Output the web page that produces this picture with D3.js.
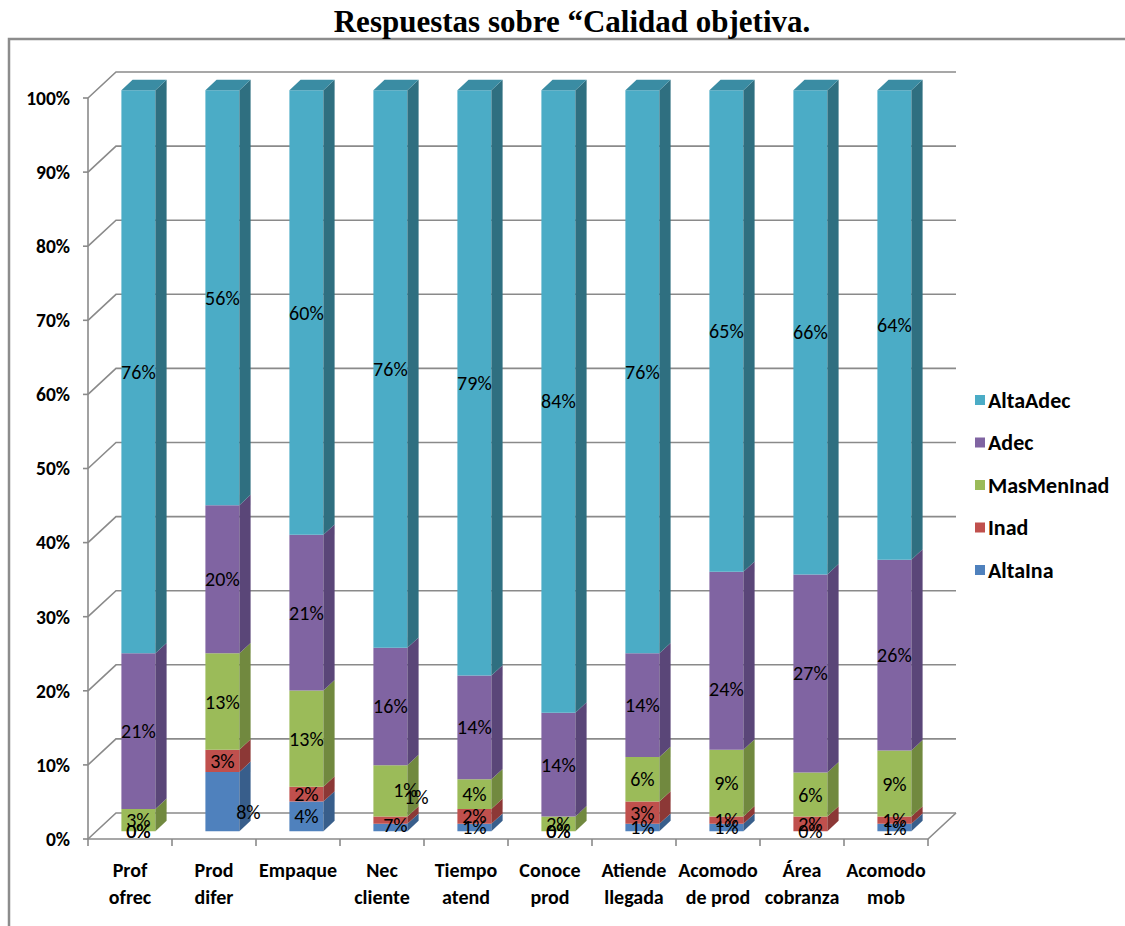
<!DOCTYPE html>
<html>
<head>
<meta charset="utf-8">
<script src="https://cdn.jsdelivr.net/npm/d3@7"></script>
<style>
  html, body { margin: 0; padding: 0; background: #fff; }
  svg { display: block; }
  .lbl { font-family: Carlito, "Liberation Sans Narrow", "DejaVu Sans Condensed", "Open Sans", sans-serif; }
</style>
</head>
<body>
<svg id="chart" width="1125" height="926"></svg>
<script>
// Category labels (line breaks as drawn under the axis)
const categories = ["Prof\nofrec", "Prod\ndifer", "Empaque", "Nec\ncliente", "Tiempo\natend",
                    "Conoce\nprod", "Atiende\nllegada", "Acomodo\nde prod", "Área\ncobranza", "Acomodo\nmob"];
// Stack order, bottom to top
const seriesNames = ["AltaIna", "Inad", "MasMenInad", "Adec", "AltaAdec"];
// Percent of answers per category
const altaIna    = [0, 8, 4, 1, 1, 0, 1, 1, 0, 1];
const inad       = [0, 3, 2, 1, 2, 0, 3, 1, 2, 1];
const masMenInad = [3, 13, 13, 7, 4, 2, 6, 9, 6, 9];
const adec       = [21, 20, 21, 16, 14, 14, 14, 24, 27, 26];
const altaAdec   = [76, 56, 60, 76, 79, 84, 76, 65, 66, 64];
const yTicks = [0, 0.1, 0.2, 0.3, 0.4, 0.5, 0.6, 0.7, 0.8, 0.9, 1];

const seriesValues = { AltaIna: altaIna, Inad: inad, MasMenInad: masMenInad, Adec: adec, AltaAdec: altaAdec };
const rows = categories.map((c, i) => {
  const r = { cat: c };
  seriesNames.forEach(s => r[s] = seriesValues[s][i]);
  return r;
});

// Face colours: front, side, top
const colors = {
  AltaIna:    { front: "#4f81bd", side: "#385e8b", top: "#416c9f" },
  Inad:       { front: "#c0504d", side: "#8c3836", top: "#a44341" },
  MasMenInad: { front: "#9bbb59", side: "#71893f", top: "#83a04a" },
  Adec:       { front: "#8064a2", side: "#5a4678", top: "#6b5489" },
  AltaAdec:   { front: "#4bacc6", side: "#2f6f80", top: "#3a8ca3" }
};

const svg = d3.select("#chart");

// Oblique projection of the 3D plot box
const depth = { dx: 28, dy: -26 };
const x = d3.scaleBand().domain(categories).range([88, 928]);
const y = d3.scaleLinear().domain([0, 1]).range([839, 98]);
const P = (px, v, d) => [px + d * depth.dx, y(v) + d * depth.dy];
const barX = d3.scaleBand().domain(categories).range([88, 928]).paddingInner(50 / 84).paddingOuter(25 / 84);
const dFront = 0.3, dBack = 0.7;

const grid = "#8a8a8a";
const line = d3.line();

// Outer chart frame
svg.append("path").attr("d", "M9,926 V39 H1125").attr("fill", "none").attr("stroke", "#8c8c8c").attr("stroke-width", 2.5);

// Title
svg.append("text").attr("x", 572).attr("y", 32).attr("text-anchor", "middle")
  .attr("font-family", "'Liberation Serif', 'Times New Roman', serif").attr("font-weight", "bold")
  .attr("font-size", 31).text("Respuestas sobre “Calidad objetiva.");

// Walls: gridlines on left side wall and back wall
const g = svg.append("g").attr("fill", "none").attr("stroke", grid).attr("stroke-width", 1.6);
yTicks.forEach(v => {
  g.append("path").attr("d", line([P(x.range()[0], v, 0), P(x.range()[0], v, 1), P(x.range()[1], v, 1)]));
});
// Left front edge, floor front and right edges
g.append("path").attr("d", line([P(88, 1, 0), P(88, 0, 0), P(928, 0, 0), P(928, 0, 1)]));
// Tick marks
yTicks.forEach(v => g.append("path").attr("d", line([[83, y(v)], [88, y(v)]])));
d3.range(categories.length + 1).forEach(i => {
  const px = 88 + i * x.step();
  g.append("path").attr("d", line([[px, y(0)], [px, y(0) + 7]]));
});

// Y axis labels
svg.append("g").selectAll("text").data(yTicks).join("text")
  .attr("class", "lbl").attr("x", 70).attr("y", d => y(d)).attr("dy", "0.35em")
  .attr("text-anchor", "end").attr("font-weight", "bold").attr("font-size", 19.5)
  .text(d => d3.format(".0%")(d));

// Category labels
const catG = svg.append("g");
categories.forEach(c => {
  const t = catG.append("text").attr("class", "lbl").attr("text-anchor", "middle")
    .attr("font-weight", "bold").attr("font-size", 20);
  c.split("\n").forEach((ln, k) => {
    t.append("tspan").attr("x", x(c) + x.bandwidth() / 2).attr("y", 877 + k * 27).text(ln);
  });
});

// Stacked 3D columns
const stack = d3.stack().keys(seriesNames).offset(d3.stackOffsetExpand);
const layers = stack(rows);
const bars = svg.append("g");
categories.forEach((c, i) => {
  const x0 = barX(c), x1 = x0 + barX.bandwidth();
  layers.forEach((layer, li) => {
    const [v0, v1] = layer[i];
    if (v1 - v0 <= 0) return;
    const col = colors[layer.key];
    bars.append("path").attr("fill", col.front)
      .attr("d", line([P(x0, v0, dFront), P(x1, v0, dFront), P(x1, v1, dFront), P(x0, v1, dFront)]) + "Z");
    bars.append("path").attr("fill", col.side)
      .attr("d", line([P(x1, v0, dFront), P(x1, v0, dBack), P(x1, v1, dBack), P(x1, v1, dFront)]) + "Z");
    if (li === layers.length - 1) {
      bars.append("path").attr("fill", col.top)
        .attr("d", line([P(x0, v1, dFront), P(x1, v1, dFront), P(x1, v1, dBack), P(x0, v1, dBack)]) + "Z");
    }
  });
});

// Value labels, centred on each segment; a few are shifted where they crowd
const labelShift = {
  "Prod\ndifer|AltaIna": [26, 10],
  "Nec\ncliente|AltaIna": [15, -38],
  "Nec\ncliente|Inad": [26, -23],
  "Nec\ncliente|MasMenInad": [5, 34],
  "Acomodo\nde prod|Adec": [0, 28]
};
const labels = svg.append("g");
categories.forEach((c, i) => {
  const xc = barX(c) + barX.bandwidth() / 2;
  layers.forEach(layer => {
    const [v0, v1] = layer[i];
    const [px, py] = P(xc, (v0 + v1) / 2, dFront);
    const sh = labelShift[c + "|" + layer.key] || [0, 0];
    labels.append("text").attr("class", "lbl").attr("text-anchor", "middle")
      .attr("x", px + sh[0]).attr("y", py + sh[1]).attr("dy", "0.35em")
      .attr("font-size", 20).attr("fill", "#000")
      .text(seriesValues[layer.key][i] + "%");
  });
});

// Legend, top entry first
const legend = svg.append("g");
seriesNames.slice().reverse().forEach((s, k) => {
  const cy = 400 + k * 42.5;
  legend.append("rect").attr("x", 975).attr("y", cy - 5).attr("width", 10).attr("height", 10).attr("fill", colors[s].front);
  legend.append("text").attr("class", "lbl").attr("x", 988).attr("y", cy).attr("dy", "0.35em")
    .attr("font-weight", "bold").attr("font-size", 22).text(s);
});
</script>
</body>
</html>
